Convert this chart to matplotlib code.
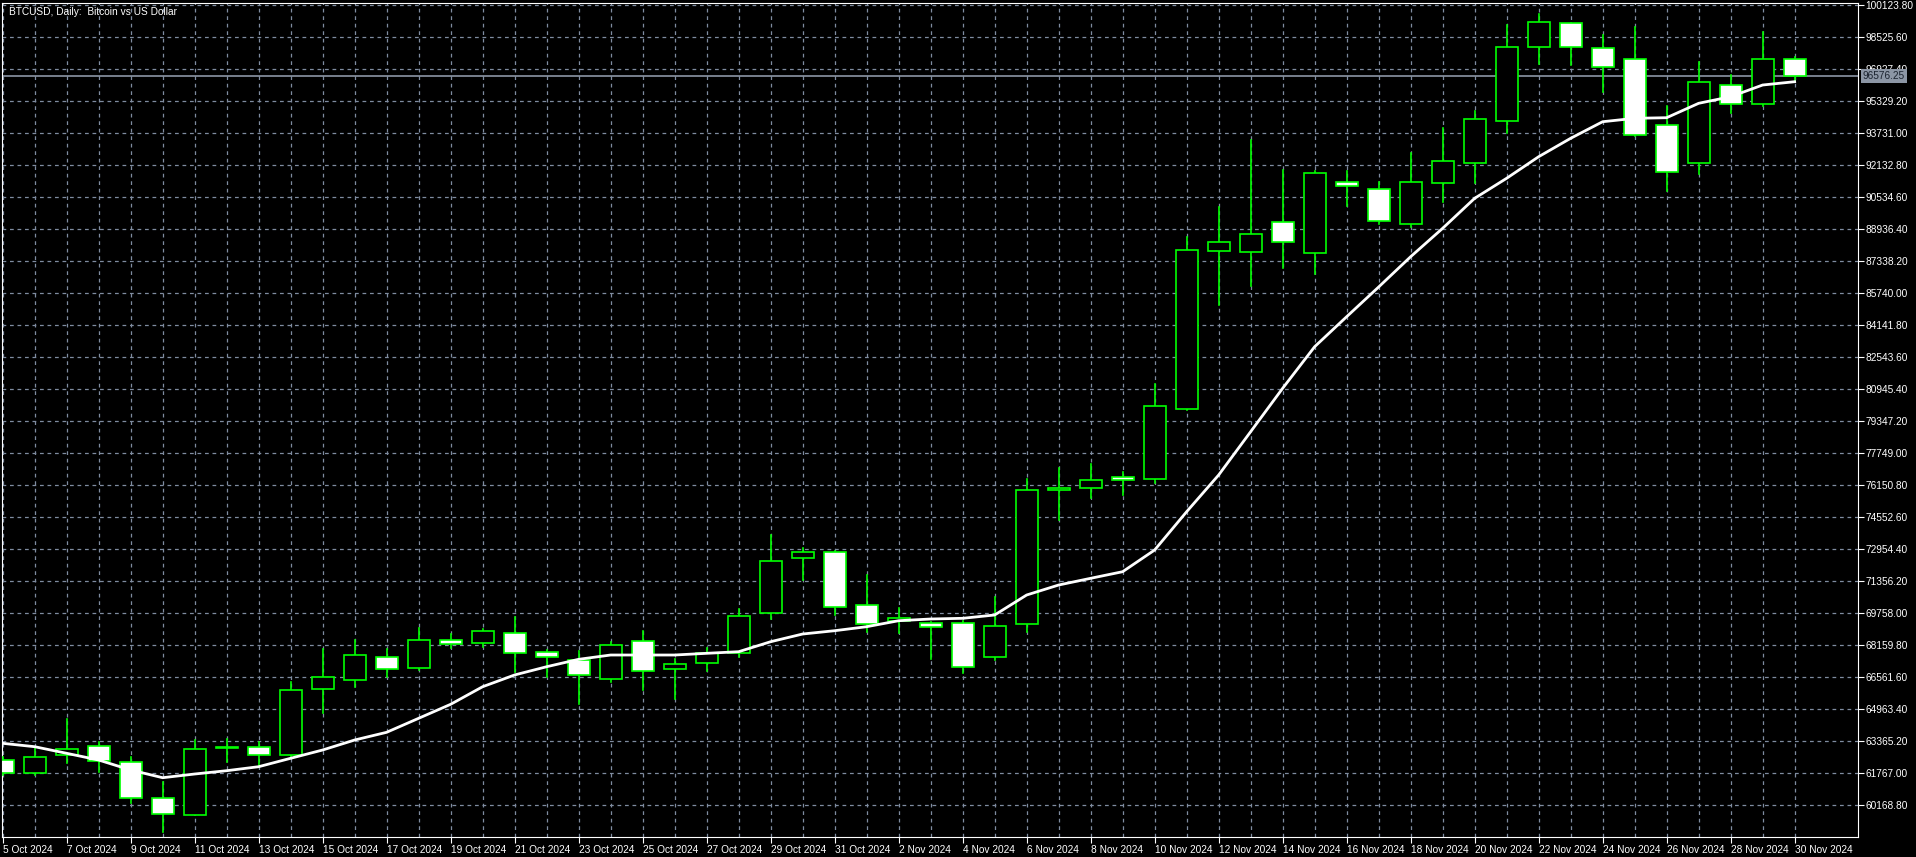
import matplotlib
matplotlib.use("Agg")
import matplotlib.pyplot as plt
from matplotlib.patches import Rectangle
import numpy as np

plt.rcParams['font.family'] = ['Liberation Sans', 'DejaVu Sans']

dates = ["5 Oct","6 Oct","7 Oct","8 Oct","9 Oct","10 Oct","11 Oct","12 Oct","13 Oct","14 Oct",
         "15 Oct","16 Oct","17 Oct","18 Oct","19 Oct","20 Oct","21 Oct","22 Oct","23 Oct","24 Oct",
         "25 Oct","26 Oct","27 Oct","28 Oct","29 Oct","30 Oct","31 Oct","1 Nov","2 Nov","3 Nov",
         "4 Nov","5 Nov","6 Nov","7 Nov","8 Nov","9 Nov","10 Nov","11 Nov","12 Nov","13 Nov",
         "14 Nov","15 Nov","16 Nov","17 Nov","18 Nov","19 Nov","20 Nov","21 Nov","22 Nov","23 Nov",
         "24 Nov","25 Nov","26 Nov","27 Nov","28 Nov","29 Nov","30 Nov"]

opens  = [62416,61752,62652,63130,62302,60504,59655,63030,63051,62681,65948,66397,67576,66996,68395,68245,68744,
          67825,67410,66447,68375,66946,67246,67745,69743,72490,72790,70143,69373,69243,69243,67576,
          69194,75900,75986,76566,76436,79931,87852,87802,89301,87723,91299,90949,89171,91219,92248,94315,
          98041,99210,97961,97412,94116,92248,96143,95164,97412]
highs  = [62550,63000,64449,63330,62552,61302,63415,63450,63330,66327,67945,68409,67945,69009,68709,68943,69544,
          67910,67876,68326,68859,67446,67996,69973,73653,72989,72873,71656,69993,69323,69373,70571,
          76450,76985,77199,76816,81180,88521,90050,93381,91883,91849,91849,91268,92747,93966,94845,99125,
          99674,99230,98625,99010,95079,97262,96628,98760,97543]
lows   = [61650,61666,62282,61832,60254,58835,59650,62332,62083,62502,64778,66078,66577,66912,67996,68075,66826,
          66577,65213,66327,65912,65447,66876,67545,69474,71406,69659,68826,68744,67446,66776,67410,
          68826,74402,75517,75651,76266,79880,85141,86104,87003,86689,90085,89186,89051,90270,91249,93746,
          97162,97127,95764,93600,90849,91683,94715,95100,96293]
closes = [61752,62581,62951,62366,60504,59705,62951,63060,62652,65898,66547,67645,66962,68395,68225,68859,67745,
          67545,66645,68160,66876,67196,67745,69594,72340,72790,70043,69194,69493,69073,67046,69093,
          75901,75990,76386,76400,80096,87872,88272,88671,88272,91718,91084,89336,91269,92317,94415,98011,
          99260,98041,97012,93646,91798,96263,95164,97412,96576.25]
ma = [63250,63081,62751,62416,61917,61532,61717,61882,62082,62502,62916,63415,63800,64499,65198,66077,66664,
      67075,67445,67660,67660,67660,67745,67825,68324,68709,68874,69074,69373,69459,69493,69659,
      70657,71156,71491,71821,72904,74817,76650,78813,80980,83058,84556,86040,87553,88971,90469,91469,
      92547,93466,94295,94465,94495,95214,95544,96128,96293]
bid = 96576.25
yticks = [60168.80 + 1598.2 * k for k in range(26)]
title = "BTCUSD, Daily:  Bitcoin vs US Dollar"

W, H = 1916, 857
fig = plt.figure(figsize=(W/100, H/100), dpi=100, facecolor="black")
L, R, T, B = 2, 1858, 3, 837
ax = fig.add_axes([L/W, 1-B/H, (R-L)/W, (B-T)/H], facecolor="black")

GREEN = "#00ff00"
FS = 7.3
x = np.arange(len(dates))
bw = 0.69
for i in x:
    o, h, l, c = opens[i], highs[i], lows[i], closes[i]
    ax.plot([i, i], [l, h], color=GREEN, lw=1.2, zorder=3)
    bull = c >= o
    lo, hi = min(o, c), max(o, c)
    hgt = max(hi - lo, 40)
    ax.add_patch(Rectangle((i - bw/2, lo), bw, hgt, facecolor="black" if bull else "white",
                           edgecolor=GREEN, lw=1.2, zorder=4))
ax.plot(x, ma, color="white", lw=2, zorder=5)
ax.axhline(bid, color="#8c96a5", lw=1.2, zorder=2)

ax.set_xlim(-0.02, 57.98)
ax.set_ylim(58571, 100224)
ax.set_xticks(x[::2])
ax.set_xticklabels([d + " 2024" for d in dates[::2]], ha="left", color="white", fontsize=FS)
ax.set_xticks(x[1::2], minor=True)
ax.set_yticks(yticks)
ax.set_yticklabels([f"{v:.2f}" for v in yticks], color="white", fontsize=FS)
ax.yaxis.tick_right()
ax.tick_params(axis="both", which="major", colors="white", length=4, pad=1.5, labelsize=FS)
ax.tick_params(axis="x", which="minor", length=0)
gkw = dict(color="#7f8ca0", ls=(0, (3, 3)), lw=0.9)
ax.grid(True, which="major", **gkw)
ax.grid(True, which="minor", axis="x", **gkw)
ax.set_axisbelow(True)
for s in ax.spines.values():
    s.set_color("white")
ax.text(1.0025, bid, f"{bid:.2f}", transform=ax.get_yaxis_transform(), va="center", ha="left",
        fontsize=FS, color="#1c2430", bbox=dict(boxstyle="square,pad=0.2", fc="#8c96a5", ec="none"), zorder=10)
ax.text(0.004, 0.995, title, transform=ax.transAxes, va="top", ha="left", color="white", fontsize=FS)
fig.savefig("out.png", dpi=100, facecolor="black")
